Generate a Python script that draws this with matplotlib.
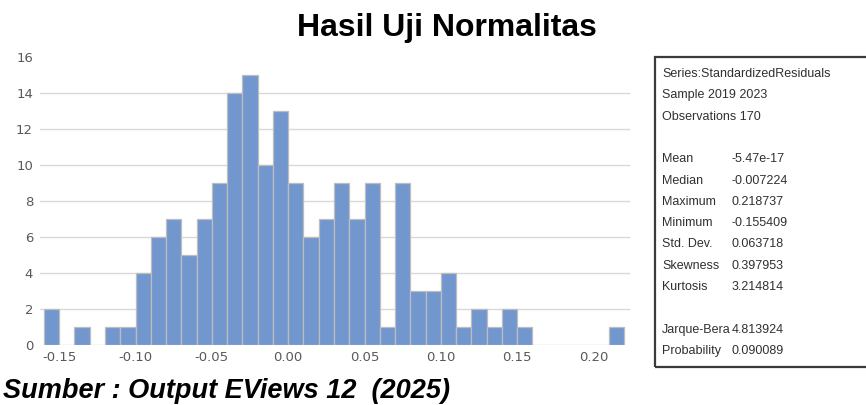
import numpy as np
import matplotlib
matplotlib.use("Agg")
import matplotlib.pyplot as plt
from matplotlib.patches import Rectangle

# histogram bins (width 0.01), counts
bin_left = np.round(np.arange(-0.16, 0.22, 0.01), 2)
counts = [2, 0, 1, 0, 1, 1, 4, 6, 7, 5, 7, 9, 14, 15, 10, 13, 9, 6, 7, 9,
          7, 9, 1, 9, 3, 3, 4, 1, 2, 1, 2, 1, 0, 0, 0, 0, 0, 1]
xticks = [-0.15, -0.10, -0.05, 0.00, 0.05, 0.10, 0.15, 0.20]
yticks = list(range(0, 17, 2))

header = ["Series:StandardizedResiduals", "Sample 2019 2023", "Observations 170"]
stat_names = ["Mean", "Median", "Maximum", "Minimum", "Std. Dev.", "Skewness", "Kurtosis"]
stat_vals = ["-5.47e-17", "-0.007224", "0.218737", "-0.155409", "0.063718", "0.397953", "3.214814"]
test_names = ["Jarque-Bera", "Probability"]
test_vals = ["4.813924", "0.090089"]

W, H = 866, 405
fig = plt.figure(figsize=(W / 100, H / 100), dpi=100)
ax = fig.add_axes([40 / W, 1 - 345 / H, 590 / W, 288 / H])

ax.bar(bin_left, counts, width=0.01, align="edge", color="#7297CF",
       edgecolor="#BDBDBD", linewidth=0.9, zorder=3)
ax.set_xlim(-0.1626, 0.2239)
ax.set_ylim(0, 16)
ax.set_xticks(xticks)
ax.set_xticklabels([f"{t:.2f}" for t in xticks])
ax.set_yticks(yticks)
ax.yaxis.grid(True, color="#D9D9D9", linewidth=1.0, zorder=0)
ax.yaxis.get_gridlines()[-1].set_visible(False)
ax.yaxis.get_gridlines()[0].set_visible(False)
for s in ax.spines.values():
    s.set_visible(False)
ax.tick_params(length=0, labelsize=9.5, labelcolor="#595959")
ax.tick_params(axis="x", pad=4)
ax.tick_params(axis="y", pad=5)

fig.text(447 / W, 1 - 28 / H, "Hasil Uji Normalitas", ha="center", va="center",
         fontsize=23, fontweight="bold", family="Liberation Sans")
fig.text(3 / W, 1 - 391 / H, "Sumber : Output EViews 12  (2025)", ha="left", va="center",
         fontsize=19.5, fontweight="bold", fontstyle="italic", family="Liberation Sans")

# stats box
fig.patches.append(Rectangle((655 / W, 1 - 367 / H), 230 / W, 310 / H,
                             transform=fig.transFigure, fill=False,
                             edgecolor="#3A3A3A", linewidth=1.6))
rows = header + [""] + stat_names + [""] + test_names
vals = ["", "", ""] + [""] + stat_vals + [""] + test_vals
for i, (lab, val) in enumerate(zip(rows, vals)):
    y = 1 - (74 + 21.3 * i) / H
    fig.text(662 / W, y, lab, ha="left", va="center", fontsize=9,
             color="#303030", family="Liberation Sans")
    if val:
        fig.text(732 / W, y, val, ha="left", va="center", fontsize=9,
                 color="#303030", family="Liberation Sans")

fig.savefig("out.png", dpi=100)
